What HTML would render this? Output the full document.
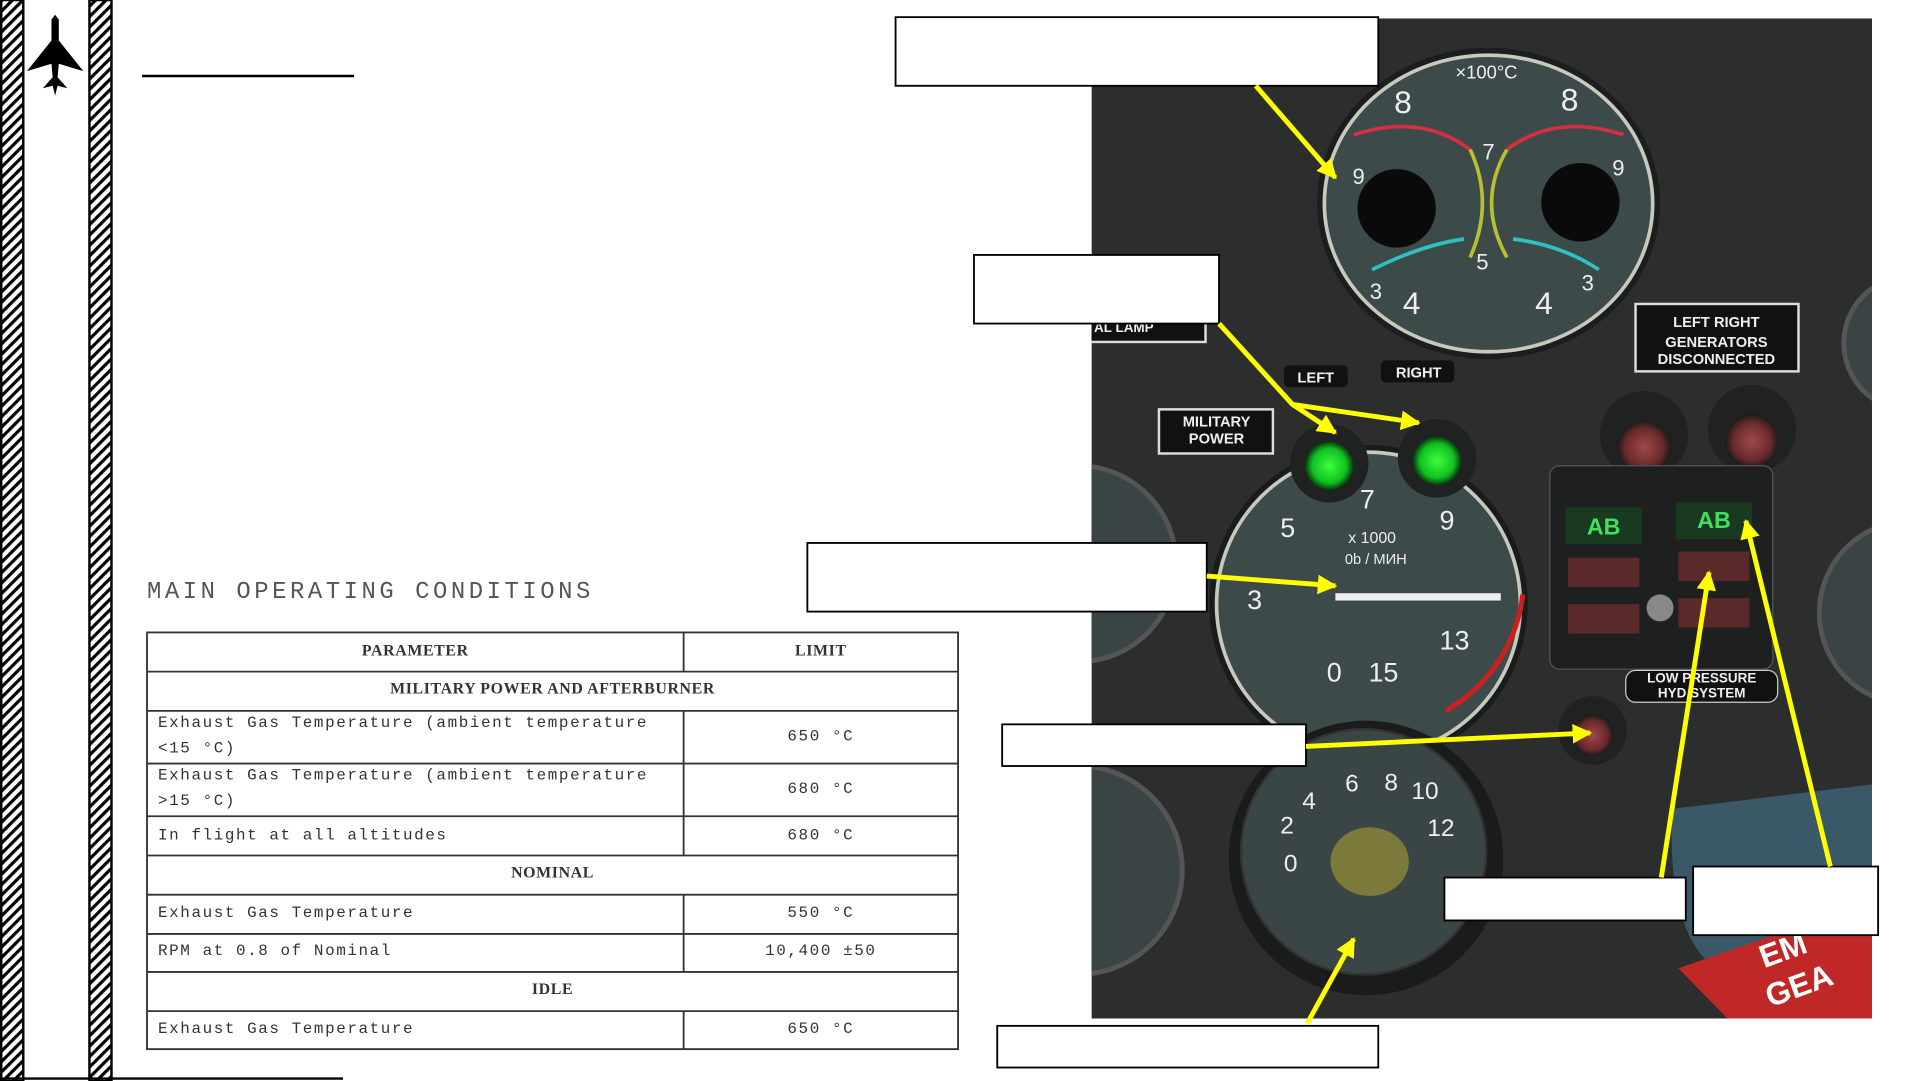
<!DOCTYPE html>
<html><head><meta charset="utf-8"><style>
html,body{margin:0;padding:0;background:#fff;width:1921px;height:1081px;overflow:hidden}
svg{display:block}
</style></head><body>
<svg width="1921" height="1081" viewBox="0 0 1568 882" preserveAspectRatio="none" xmlns="http://www.w3.org/2000/svg" font-family="Liberation Sans, sans-serif">
<defs>
<pattern id="hatch" width="6" height="6" patternUnits="userSpaceOnUse" patternTransform="rotate(45)">
<rect width="6" height="6" fill="#fff"/><rect width="2.6" height="6" fill="#000"/></pattern>
<marker id="ah" viewBox="0 0 10 10" refX="9" refY="5" markerWidth="4" markerHeight="4" orient="auto"><path d="M0,0L10,5L0,10z" fill="#ffff00"/></marker>
<radialGradient id="grn"><stop offset="0" stop-color="#3cff3c"/><stop offset="0.7" stop-color="#10c020"/><stop offset="1" stop-color="#0a3010"/></radialGradient>
<radialGradient id="red"><stop offset="0" stop-color="#a04848"/><stop offset="0.7" stop-color="#6a2a2a"/><stop offset="1" stop-color="#1a1a1a"/></radialGradient>
<clipPath id="ph"><rect x="891" y="15" width="637" height="816"/></clipPath>
</defs>
<!-- left bars -->
<rect x="1" y="0" width="18" height="882" fill="url(#hatch)" stroke="#000" stroke-width="2"/>
<rect x="73" y="0" width="18" height="882" fill="url(#hatch)" stroke="#000" stroke-width="2"/>
<path d="M45,12 L48,16 L48,33 L68,58 L48,52 L47,63 L55,72 L47,70 L45,78 L43,70 L35,72 L43,63 L42,52 L22,58 L42,33 L42,16 Z" fill="#000"/>
<line x1="116" y1="62" x2="289" y2="62" stroke="#000" stroke-width="2"/>
<line x1="0" y1="880" x2="280" y2="880" stroke="#000" stroke-width="2"/>
<!-- title -->
<text x="120" y="488" font-family="Liberation Mono, monospace" font-size="19.5" fill="#555" letter-spacing="2.9">MAIN OPERATING CONDITIONS</text>
<!-- table -->
<g stroke="#333" stroke-width="1.5" fill="none">
<rect x="120" y="516" width="662" height="340"/>
<line x1="120" y1="548" x2="782" y2="548"/><line x1="120" y1="580" x2="782" y2="580"/>
<line x1="120" y1="623" x2="782" y2="623"/><line x1="120" y1="666" x2="782" y2="666"/>
<line x1="120" y1="698" x2="782" y2="698"/><line x1="120" y1="730" x2="782" y2="730"/>
<line x1="120" y1="762" x2="782" y2="762"/><line x1="120" y1="793" x2="782" y2="793"/>
<line x1="120" y1="825" x2="782" y2="825"/>
<line x1="558" y1="516" x2="558" y2="548"/><line x1="558" y1="580" x2="558" y2="698"/>
<line x1="558" y1="730" x2="558" y2="793"/><line x1="558" y1="825" x2="558" y2="856"/>
</g>
<g font-family="Liberation Mono, monospace" font-size="13" fill="#333" letter-spacing="1.3">
<text x="339" y="535" text-anchor="middle" font-weight="bold" font-family="Liberation Serif, serif" letter-spacing="0.5">PARAMETER</text>
<text x="670" y="535" text-anchor="middle" font-weight="bold" font-family="Liberation Serif, serif" letter-spacing="0.5">LIMIT</text>
<text x="451" y="566" text-anchor="middle" font-weight="bold" font-family="Liberation Serif, serif" letter-spacing="0.5">MILITARY POWER AND AFTERBURNER</text>
<text x="129" y="593">Exhaust Gas Temperature (ambient temperature</text>
<text x="129" y="614">&lt;15 °C)</text>
<text x="670" y="604" text-anchor="middle">650 °C</text>
<text x="129" y="636">Exhaust Gas Temperature (ambient temperature</text>
<text x="129" y="657">&gt;15 °C)</text>
<text x="670" y="647" text-anchor="middle">680 °C</text>
<text x="129" y="685">In flight at all altitudes</text>
<text x="670" y="685" text-anchor="middle">680 °C</text>
<text x="451" y="716" text-anchor="middle" font-weight="bold" font-family="Liberation Serif, serif" letter-spacing="0.5">NOMINAL</text>
<text x="129" y="748">Exhaust Gas Temperature</text>
<text x="670" y="748" text-anchor="middle">550 °C</text>
<text x="129" y="779">RPM at 0.8 of Nominal</text>
<text x="670" y="779" text-anchor="middle">10,400 ±50</text>
<text x="451" y="811" text-anchor="middle" font-weight="bold" font-family="Liberation Serif, serif" letter-spacing="0.5">IDLE</text>
<text x="129" y="843">Exhaust Gas Temperature</text>
<text x="670" y="843" text-anchor="middle">650 °C</text>
</g>
<!-- photo -->
<g clip-path="url(#ph)">
<rect x="891" y="15" width="637" height="816" fill="#2c2e2e"/>
<circle cx="880" cy="460" r="80" fill="#3a4444" stroke="#555" stroke-width="4"/>
<circle cx="880" cy="710" r="85" fill="#3a4444" stroke="#555" stroke-width="4"/>
<circle cx="1560" cy="500" r="75" fill="#3a4444" stroke="#555" stroke-width="4"/>
<circle cx="1560" cy="280" r="55" fill="#3a4444" stroke="#555" stroke-width="4"/>
<!-- EGT gauge -->
<ellipse cx="1215" cy="166" rx="140" ry="127" fill="#1c1e1e"/>
<ellipse cx="1215" cy="166" rx="134" ry="121" fill="#3d4a4a" stroke="#c8c8bc" stroke-width="3"/>
<circle cx="1140" cy="170" r="32" fill="#0a0a0a"/><circle cx="1290" cy="165" r="32" fill="#0a0a0a"/>
<path d="M1105,110 Q1160,92 1200,122" stroke="#d43040" stroke-width="3" fill="none"/>
<path d="M1230,122 Q1270,92 1325,110" stroke="#d43040" stroke-width="3" fill="none"/>
<path d="M1200,122 Q1220,165 1200,210 M1230,122 Q1205,165 1230,210" stroke="#b8c030" stroke-width="3" fill="none"/>
<path d="M1120,220 Q1160,200 1195,195 M1235,195 Q1275,200 1305,220" stroke="#30c0c0" stroke-width="3" fill="none"/>
<g fill="#eee" font-size="26"><text x="1138" y="92">8</text><text x="1274" y="90">8</text><text x="1145" y="256">4</text><text x="1253" y="256">4</text></g>
<g fill="#eee" font-size="18"><text x="1104" y="150">9</text><text x="1316" y="143">9</text><text x="1205" y="220">5</text><text x="1210" y="130">7</text><text x="1118" y="244">3</text><text x="1291" y="237">3</text><text x="1188" y="64" font-size="15">×100°C</text></g>
<rect x="1335" y="248" width="133" height="55" fill="#111" stroke="#ddd" stroke-width="2"/>
<g fill="#eee" font-size="12" font-weight="bold" text-anchor="middle"><text x="1401" y="267">LEFT     RIGHT</text><text x="1401" y="283">GENERATORS</text><text x="1401" y="297">DISCONNECTED</text></g>
<rect x="946" y="334" width="93" height="36" fill="#111" stroke="#ddd" stroke-width="2"/>
<g fill="#eee" font-size="12" font-weight="bold" text-anchor="middle"><text x="993" y="348">MILITARY</text><text x="993" y="362">POWER</text></g>
<rect x="885" y="255" width="99" height="24" fill="#111" stroke="#ddd" stroke-width="2"/>
<text x="893" y="271" fill="#eee" font-size="11" font-weight="bold">AL LAMP</text>
<rect x="1048" y="298" width="52" height="18" rx="4" fill="#111"/><text x="1074" y="312" fill="#eee" font-size="12" font-weight="bold" text-anchor="middle">LEFT</text>
<rect x="1127" y="294" width="60" height="18" rx="4" fill="#111"/><text x="1158" y="308" fill="#eee" font-size="12" font-weight="bold" text-anchor="middle">RIGHT</text>
<!-- tach -->
<circle cx="1117" cy="493" r="130" fill="#1a1c1c"/>
<circle cx="1117" cy="493" r="124" fill="#3d4a4a" stroke="#c8c8bc" stroke-width="3"/>
<path d="M1243,485 A126,126 0 0 1 1180,580" stroke="#cc2020" stroke-width="4" fill="none"/>
<g fill="#eee" font-size="22"><text x="1110" y="415">7</text><text x="1045" y="438">5</text><text x="1175" y="432">9</text><text x="1018" y="497">3</text><text x="1175" y="530">13</text><text x="1083" y="556">0</text><text x="1117" y="556">15</text></g>
<text x="1120" y="443" fill="#eee" font-size="13" text-anchor="middle">x 1000</text>
<text x="1123" y="460" fill="#eee" font-size="12" text-anchor="middle">0b  /  МИН</text>
<rect x="1090" y="484" width="135" height="6" fill="#eee"/>
<circle cx="1085" cy="378" r="32" fill="#202222"/><circle cx="1173" cy="374" r="32" fill="#202222"/>
<circle cx="1085" cy="380" r="20" fill="url(#grn)"/><circle cx="1173" cy="376" r="20" fill="url(#grn)"/>
<circle cx="1342" cy="355" r="36" fill="#202222"/><circle cx="1430" cy="350" r="36" fill="#202222"/>
<circle cx="1342" cy="365" r="22" fill="url(#red)"/><circle cx="1430" cy="360" r="22" fill="url(#red)"/>
<circle cx="1300" cy="596" r="28" fill="#202222"/><circle cx="1300" cy="600" r="17" fill="url(#red)"/>
<rect x="1265" y="380" width="182" height="166" rx="8" fill="#1e2020" stroke="#555"/>
<rect x="1278" y="414" width="62" height="30" fill="#1a3a20"/><text x="1309" y="436" fill="#3de060" font-size="19" font-weight="bold" text-anchor="middle">AB</text>
<rect x="1368" y="410" width="62" height="30" fill="#1a3a20"/><text x="1399" y="431" fill="#3de060" font-size="19" font-weight="bold" text-anchor="middle">AB</text>
<rect x="1280" y="455" width="58" height="24" fill="#5a2a2a"/><rect x="1370" y="450" width="58" height="24" fill="#5a2a2a"/>
<rect x="1280" y="493" width="58" height="24" fill="#5a2a2a"/><rect x="1370" y="488" width="58" height="24" fill="#5a2a2a"/>
<circle cx="1355" cy="496" r="11" fill="#888"/>
<rect x="1327" y="547" width="124" height="26" rx="8" fill="#111" stroke="#ccc"/>
<g fill="#eee" font-size="11" font-weight="bold" text-anchor="middle"><text x="1389" y="557">LOW PRESSURE</text><text x="1389" y="569">HYD SYSTEM</text></g>
<circle cx="1115" cy="700" r="112" fill="#1a1c1c"/>
<circle cx="1113" cy="695" r="100" fill="#3a4646" stroke="#333" stroke-width="2"/>
<ellipse cx="1118" cy="703" rx="32" ry="28" fill="#7c7a3a"/>
<g fill="#eee" font-size="20"><text x="1048" y="711">0</text><text x="1045" y="680">2</text><text x="1063" y="660">4</text><text x="1098" y="646">6</text><text x="1130" y="645">8</text><text x="1152" y="652">10</text><text x="1165" y="682">12</text></g>
<path d="M1365,660 L1528,640 L1528,780 L1400,790 Q1360,760 1365,660Z" fill="#3a5868"/>
<path d="M1370,790 L1500,745 L1528,760 L1528,831 L1410,831Z" fill="#c02828"/>
<g fill="#fff" font-size="26" font-weight="bold"><text x="1440" y="790" transform="rotate(-20 1440 790)">EM</text><text x="1445" y="822" transform="rotate(-20 1445 822)">GEA</text></g>
</g>
<!-- label boxes -->
<g fill="#fff" stroke="#000" stroke-width="1.5">
<rect x="731" y="14" width="394" height="56"/>
<rect x="795" y="208" width="200" height="56"/>
<rect x="659" y="443" width="326" height="56"/>
<rect x="818" y="591" width="248" height="34"/>
<rect x="1179" y="716" width="197" height="35"/>
<rect x="1382" y="707" width="151" height="56"/>
<rect x="814" y="837" width="311" height="34"/>
</g>
<g stroke="#ffff00" stroke-width="4" fill="none" marker-end="url(#ah)">
<line x1="1025" y1="70" x2="1090" y2="145"/>
<polyline points="995,264 1055,330 1090,353"/>
<line x1="1055" y1="330" x2="1158" y2="345"/>
<line x1="985" y1="470" x2="1090" y2="478"/>
<line x1="1066" y1="609" x2="1298" y2="598"/>
<line x1="1356" y1="716" x2="1395" y2="467"/>
<line x1="1494" y1="707" x2="1425" y2="425"/>
<line x1="1067" y1="835" x2="1105" y2="766"/>
</g>
</svg>
</body></html>
